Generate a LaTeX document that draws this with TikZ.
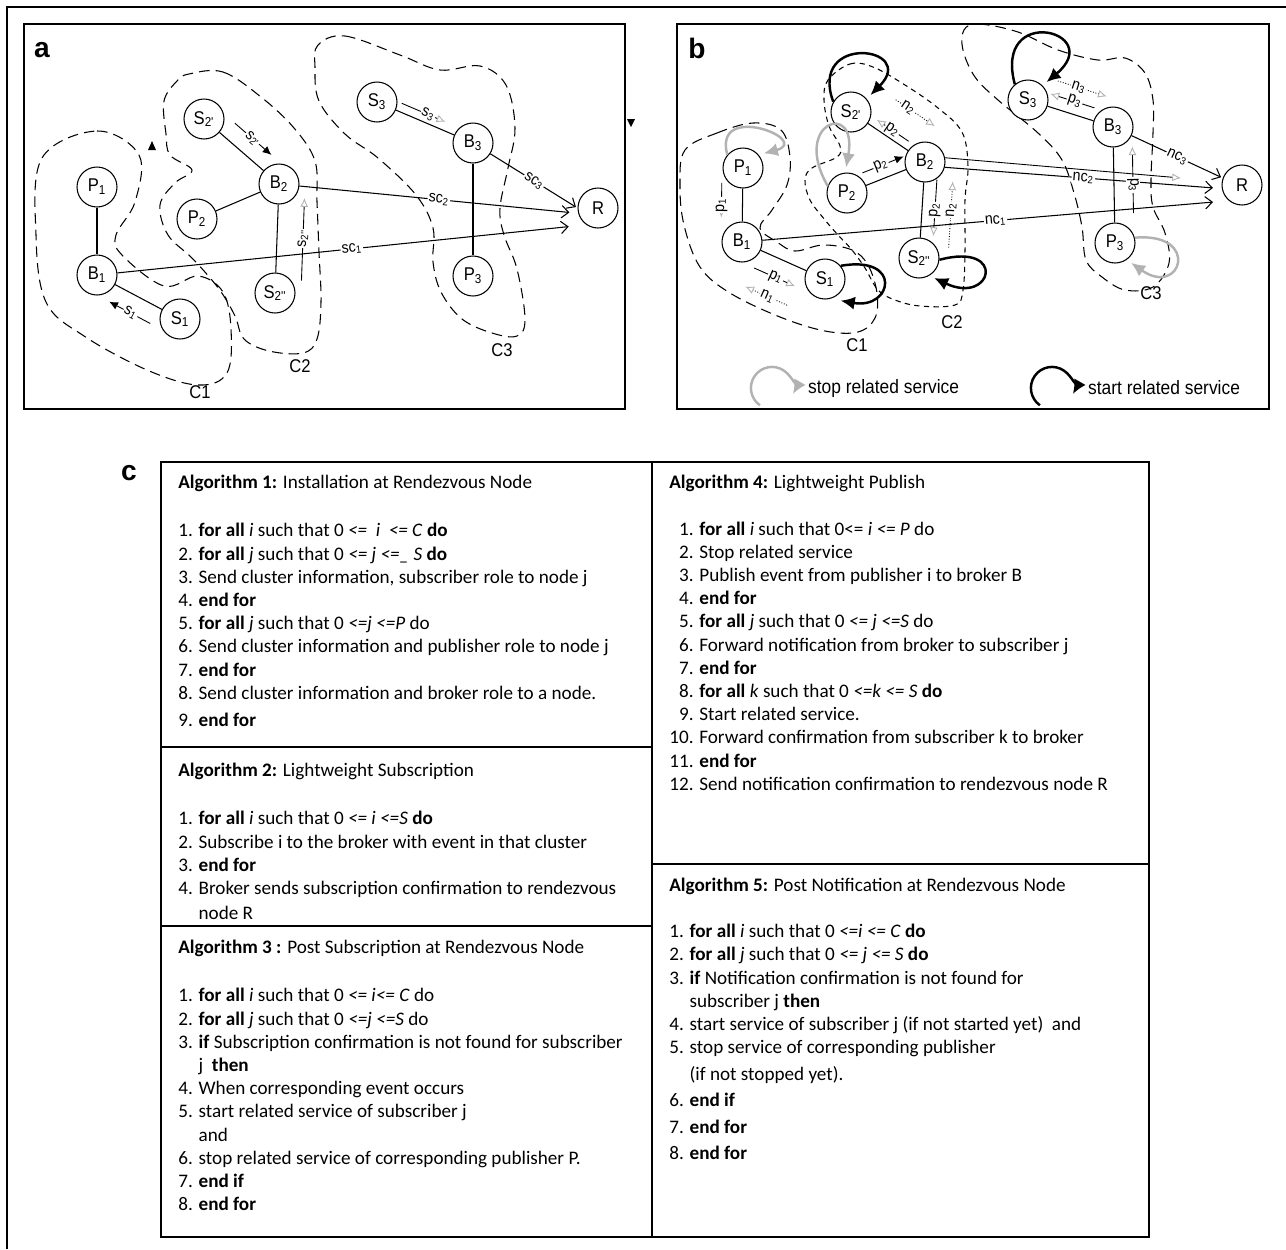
\documentclass[tikz,border=0pt]{standalone}
\usepackage{fontspec}
\setmainfont{Carlito}
\newfontfamily\figfont[FakeStretch=0.9]{Liberation Sans}
\newfontfamily\tagfont{Liberation Sans}
\usetikzlibrary{arrows.meta}
\tikzset{>=latex}
\newcommand{\fall}{\textbf{for all}}
\newcommand{\efor}{\textbf{end for}}

\begin{document}
\begin{tikzpicture}[x=0.02cm,y=-0.02cm,
  every node/.style={font=\figfont\fontsize{10.5}{12}\selectfont},
  nd/.style={circle,draw,fill=white,line width=0.6pt,minimum size=0.8cm,inner sep=0pt},
  ln/.style={line width=0.6pt},
  clu/.style={line width=0.6pt,dash pattern=on 6pt off 3.5pt},
  clu2/.style={line width=0.6pt,dash pattern=on 3pt off 2.5pt},
  lbl/.style={fill=white,inner sep=0.6pt,sloped,font=\figfont\fontsize{9}{10}\selectfont},
  scl/.style={line width=0.6pt,-{Straight Barb[length=4pt,width=7pt]}},
  blk/.style={line width=0.5pt,-{Latex[length=5pt,width=4.5pt]}},
  gry/.style={line width=0.5pt,-{Latex[open,length=5pt,width=4.5pt,color=gray!60]}},
  gryd/.style={gry,densely dotted},
  startlp/.style={line width=1.4pt,shorten >=3pt,-{Latex[length=8pt,width=7.5pt]}},
  stoplp/.style={startlp,draw=gray!60},
  box/.style={line width=1.1pt},
  alg/.style={anchor=north west,align=left,inner sep=0pt,font=\rmfamily\fontsize{10.9}{13.2}\selectfont},
  tag/.style={font=\tagfont\bfseries\fontsize{16}{18}\selectfont}]
\useasboundingbox (0,0) rectangle (1286,1249);

% frames
\draw[box] (7,1249) -- (7,7) -- (1286,7);
\draw[box] (24,24) rectangle (625,409);
\draw[box] (677,24) rectangle (1269,409);
\node[tag] (ta) at (42,50) {a};
\node[tag] (tb) at (697,48) {b};
\node[tag] (tc) at (129,473) {c};

% ---- panel a: clusters
\draw[clu] plot[smooth cycle,tension=0.6] coordinates {(42,158) (97,131) (139,155) (135,202) (116,235) (122,255) (164,286) (198,276) (223,292) (231,329) (227,373) (198,385) (147,370) (84,336) (46,302) (36,235)};
\draw[clu] plot[smooth cycle,tension=0.6] coordinates {(189,74) (223,72) (261,97) (294,128) (315,161) (317,202) (319,252) (321,302) (317,339) (303,353) (269,351) (244,339) (235,316) (219,289) (193,259) (168,235) (160,205) (175,183) (192,170) (170,155) (166,134) (164,101) (177,81)};
\draw[clu] plot[smooth cycle,tension=0.6] coordinates {(318,45) (345,36) (400,55) (440,70) (480,66) (506,85) (515,128) (508,168) (500,208) (504,235) (517,269) (525,319) (517,336) (492,333) (462,319) (441,292) (433,262) (433,228) (416,195) (378,158) (345,134) (319,101) (315,67)};
\node (aC1) at (200,392) {C1};
\node (aC2) at (300,366) {C2};
\node (aC3) at (502,350) {C3};

% ---- panel a: nodes
\node[nd] (aP1) at (97,187) {P\textsubscript{1}};
\node[nd] (aB1) at (97,275) {B\textsubscript{1}};
\node[nd] (aS1) at (180,319) {S\textsubscript{1}};
\node[nd] (aS2a) at (204,119) {S\textsubscript{2'}};
\node[nd] (aP2) at (197,219) {P\textsubscript{2}};
\node[nd] (aB2) at (279,184) {B\textsubscript{2}};
\node[nd] (aS2b) at (275,293) {S\textsubscript{2''}};
\node[nd] (aS3) at (377,102) {S\textsubscript{3}};
\node[nd] (aB3) at (473,143) {B\textsubscript{3}};
\node[nd] (aP3) at (473,276) {P\textsubscript{3}};
\node[nd] (aR) at (598,208) {R};

\draw[ln] (aP1) -- (aB1);
\draw[ln] (aB1) -- (aS1);
\draw[ln] (aS2a) -- (aB2);
\draw[ln] (aP2) -- (aB2);
\draw[ln] (aB2) -- (aS2b);
\draw[ln] (aS3) -- (aB3);
\draw[ln] (aB3) -- (aP3);
\draw[scl,shorten >=10pt] (aB1) -- node[lbl]{sc\textsubscript{1}} (aR.235);
\draw[scl,shorten >=5pt] (aB2) -- node[lbl]{sc\textsubscript{2}} (aR.195);
\draw[scl,shorten >=1pt] (aB3) -- node[lbl]{sc\textsubscript{3}} (aR.west);
\draw[blk,shorten <=14pt,shorten >=13pt] ([shift={(-8,16)}]aS1.center) -- node[lbl]{s\textsubscript{1}} ([shift={(-8,16)}]aB1.center);
\draw[blk,shorten <=15pt,shorten >=14pt] ([shift={(11,-13)}]aS2a.center) -- node[lbl]{s\textsubscript{2'}} ([shift={(11,-13)}]aB2.center);
\draw[gry,shorten <=13.5pt,shorten >=19pt] ([shift={(3,-8)}]aS3.center) -- node[lbl]{s\textsubscript{3}} ([shift={(3,-8)}]aB3.center);
\draw[gry,shorten <=7pt,shorten >=8pt] ([shift={(26,0)}]aS2b.center) -- node[lbl]{s\textsubscript{2''}} ([shift={(26,0)}]aB2.center);
\fill (152,141) -- (156,150) -- (148,150) -- cycle;
\fill (627,119) -- (635,119) -- (631,127) -- cycle;

% ---- panel b: clusters
\draw[clu] plot[smooth cycle,tension=0.6] coordinates {(685,150) (717,133) (753,123) (781,130) (790,157) (787,185) (772,210) (760,228) (777,242) (795,251) (823,245) (852,250) (868,265) (877,293) (875,318) (858,332) (825,331) (780,317) (730,293) (700,267) (684,225) (680,185)};
\draw[clu2] plot[smooth cycle,tension=0.6] coordinates {(828,80) (850,64) (873,67) (905,85) (938,108) (962,132) (968,166) (965,200) (965,250) (963,290) (955,305) (920,306) (895,300) (878,290) (865,268) (852,250) (838,235) (825,220) (810,200) (805,180) (812,168) (837,157) (840,146) (829,126) (824,100)};
\draw[clu] plot[smooth cycle,tension=0.6] coordinates {(964,30) (979,24) (1018,32) (1058,50) (1098,60) (1125,58) (1145,73) (1153,100) (1153,133) (1151,180) (1153,207) (1165,233) (1169,263) (1153,287) (1125,290) (1102,277) (1086,260) (1082,227) (1074,193) (1062,160) (1038,133) (998,100) (975,77) (963,50)};
\node (bC1) at (857,345) {C1};
\node (bC2) at (952,322) {C2};
\node (bC3) at (1151,293) {C3};

% ---- panel b: nodes
\node[nd] (bP1) at (743,168) {P\textsubscript{1}};
\node[nd] (bB1) at (742,242) {B\textsubscript{1}};
\node[nd] (bS1) at (825,279) {S\textsubscript{1}};
\node[nd] (bS2a) at (851,112) {S\textsubscript{2'}};
\node[nd] (bP2) at (847,193) {P\textsubscript{2}};
\node[nd] (bB2) at (925,162) {B\textsubscript{2}};
\node[nd] (bS2b) at (919,258) {S\textsubscript{2''}};
\node[nd] (bS3) at (1028,100) {S\textsubscript{3}};
\node[nd] (bB3) at (1113,127) {B\textsubscript{3}};
\node[nd] (bP3) at (1115,243) {P\textsubscript{3}};
\node[nd] (bR) at (1242,185) {R};
\coordinate (bT) at (1181,178);

\draw[ln] (bP1) -- (bB1);
\draw[ln] (bB1) -- (bS1);
\draw[ln] (bS2a) -- (bB2);
\draw[ln] (bP2) -- (bB2);
\draw[ln] (bB2) -- (bS2b);
\draw[ln] (bS3) -- (bB3);
\draw[ln] (bB3) -- (bP3);
\draw[scl,shorten >=9pt] (bB1) -- node[lbl]{nc\textsubscript{1}} (bR.230);
\draw[scl,shorten >=5pt] (bB2.-15) -- node[lbl]{nc\textsubscript{2}} (bR.190);
\draw[gry] (bB2.12) -- (bT);
\draw[scl,shorten >=1pt] (bB3) -- node[lbl]{nc\textsubscript{3}} (bR.160);
\draw[gry,shorten <=8.5pt,shorten >=14pt] ([shift={(-21,0)}]bP1.center) -- node[lbl]{p\textsubscript{1}} ([shift={(-21,0)}]bB1.center);
\draw[gry,shorten <=12.5pt,shorten >=13.7pt] ([shift={(-8,17)}]bB1.center) -- node[lbl]{p\textsubscript{1}} ([shift={(-8,17)}]bS1.center);
\draw[gryd,shorten <=13.7pt,shorten >=12pt] ([shift={(-16,36)}]bS1.center) -- node[lbl]{n\textsubscript{1}} ([shift={(-16,36)}]bB1.center);
\draw[blk,shorten <=12.5pt,shorten >=10pt] ([shift={(-5,-12)}]bP2.center) -- node[lbl]{p\textsubscript{2}} ([shift={(-5,-12)}]bB2.center);
\draw[gry,shorten <=14pt,shorten >=15pt] ([shift={(4,-7)}]bB2.center) -- node[lbl]{p\textsubscript{2}} ([shift={(4,-7)}]bS2a.center);
\draw[gryd,shorten <=17pt,shorten >=7pt] ([shift={(20,-29)}]bS2a.center) -- node[lbl]{n\textsubscript{2}} ([shift={(20,-29)}]bB2.center);
\draw[gry,shorten <=10pt,shorten >=12.5pt] ([shift={(13,0)}]bB2.center) -- node[lbl]{p\textsubscript{2}} ([shift={(13,0)}]bS2b.center);
\draw[gryd,shorten <=6pt,shorten >=11pt] ([shift={(29,0)}]bS2b.center) -- node[lbl]{n\textsubscript{2}} ([shift={(29,0)}]bB2.center);
\draw[gry,shorten <=13.5pt,shorten >=11pt] ([shift={(4,-12)}]bB3.center) -- node[lbl]{p\textsubscript{3}} ([shift={(4,-12)}]bS3.center);
\draw[gryd,shorten <=13pt,shorten >=8.5pt] ([shift={(8,-26)}]bS3.center) -- node[lbl]{n\textsubscript{3}} ([shift={(8,-26)}]bB3.center);
\draw[gry,shorten <=17pt,shorten >=11pt] ([shift={(19,0)}]bP3.center) -- node[lbl]{p\textsubscript{3}} ([shift={(19,0)}]bB3.center);

% service loops
\draw[stoplp] (bP1.140) to[out=105,in=15,distance=32pt] (bP1.40);
\draw[stoplp] (bP2.160) to[out=120,in=80,distance=42pt] (bP2.95);
\draw[stoplp] (bP3.15) to[out=5,in=-35,distance=38pt] (bP3.-55);
\draw[startlp] (bS2a.150) to[out=110,in=45,distance=42pt] (bS2a.40);
\draw[startlp,shorten >=6pt] (bS1.40) to[out=10,in=-10,distance=36pt] (bS1.-75);
\draw[startlp] (bS2b.-5) to[out=15,in=-25,distance=40pt] (bS2b.-60);
\draw[startlp] (bS3.130) to[out=105,in=40,distance=48pt] (bS3.45);

% legend
\coordinate (lgs) at (772,388);
\coordinate (lgb) at (1052,388);
\draw[stoplp] ([shift={(235:12pt)}]lgs) arc[start angle=235,end angle=-30,radius=12pt];
\draw[startlp] ([shift={(235:12pt)}]lgb) arc[start angle=235,end angle=-30,radius=12pt];
\node[anchor=west,font=\figfont\fontsize{11}{13}\selectfont] (lgstop) at (802,388) {stop related service};
\node[anchor=west,font=\figfont\fontsize{11}{13}\selectfont] (lgstart) at (1082,388) {start related service};

% ---- panel c
\draw[box] (161,462) rectangle (1149,1237);
\draw[box] (652,462) -- (652,1237);
\draw[box] (161,747) -- (652,747);
\draw[box] (161,926) -- (652,926);
\draw[box] (652,864) -- (1149,864);

\node[alg] (alg1) at (178,475) {\textbf{Algorithm 1:} Installation at Rendezvous Node\\[14.2pt]
1. \fall{} \textit{i} such that 0 \textit{<=\ \ i\ \ <= C} \textbf{do}\\
2. \fall{} \textit{j} such that 0 \textit{<= j <=\_ S} \textbf{do}\\
3. Send cluster information, subscriber role to node j\\
4. \efor\\
5. \fall{} \textit{j} such that 0 \textit{<=j <=P} do\\
6. Send cluster information and publisher role to node j\\
7. \efor\\
8. Send cluster information and broker role to a node.\\[2.3pt]
9. \efor};

\node[alg] (alg2) at (178,763) {\textbf{Algorithm 2:} Lightweight Subscription\\[14.2pt]
1. \fall{} \textit{i} such that 0 \textit{<= i <=S} \textbf{do}\\
2. Subscribe i to the broker with event in that cluster\\
3. \efor\\
4. Broker sends subscription confirmation to rendezvous\\[1pt]
\phantom{4. }node R};

\node[alg] (alg3) at (178,940) {\textbf{Algorithm 3 :} Post Subscription at Rendezvous Node\\[14.2pt]
1. \fall{} \textit{i} such that 0 \textit{<= i<= C} do\\
2. \fall{} \textit{j} such that 0 \textit{<=j <=S} do\\
3. \textbf{if} Subscription confirmation is not found for subscriber\\
\phantom{3. }j\ \ \textbf{then}\\
4. When corresponding event occurs\\
5. start related service of subscriber j\\
\phantom{5. }and\\
6. stop related service of corresponding publisher P.\\
7. \textbf{end if}\\
8. \efor};

\node[alg] (alg4) at (669,475) {\textbf{Algorithm 4:} Lightweight Publish\\[13.2pt]
\phantom{1}1. \fall{} \textit{i} such that 0<= \textit{i <= P} do\\
\phantom{1}2. Stop related service\\
\phantom{1}3. Publish event from publisher i to broker B\\
\phantom{1}4. \efor\\
\phantom{1}5. \fall{} \textit{j} such that 0 \textit{<= j <=S} do\\
\phantom{1}6. Forward notification from broker to subscriber j\\
\phantom{1}7. \efor\\
\phantom{1}8. \fall{} \textit{k} such that 0 \textit{<=k <= S} \textbf{do}\\
\phantom{1}9. Start related service.\\
10. Forward confirmation from subscriber k to broker\\
11. \efor\\
12. Send notification confirmation to rendezvous node R};

\node[alg] (alg5) at (669,878) {\textbf{Algorithm 5:} Post Notification at Rendezvous Node\\[12.9pt]
1. \fall{} \textit{i} such that 0 \textit{<=i <= C} \textbf{do}\\
2. \fall{} \textit{j} such that 0 \textit{<= j <= S} \textbf{do}\\
3. \textbf{if} Notification confirmation is not found for\\
\phantom{3. }subscriber j \textbf{then}\\
4. start service of subscriber j (if not started yet)\ \ and\\
5. stop service of corresponding publisher\\[1.9pt]
\phantom{5. }(if not stopped yet).\\[1.9pt]
6. \textbf{end if}\\[1.9pt]
7. \efor\\[1.9pt]
8. \efor};
\end{tikzpicture}
\end{document}
